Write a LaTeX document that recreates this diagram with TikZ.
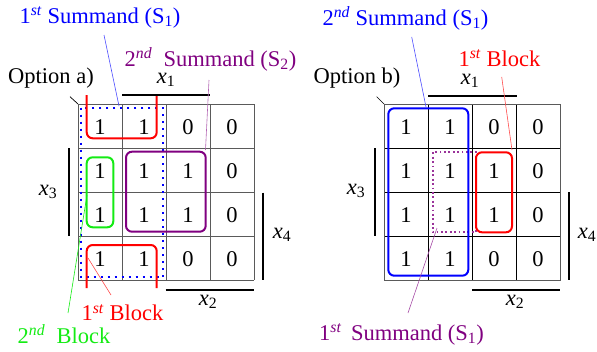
\documentclass[tikz,border=0pt]{standalone}
\usepackage{fontspec}
\setmainfont{Liberation Serif}[Ligatures=TeX]
\definecolor{kblue}{RGB}{0,0,255}
\definecolor{kred}{RGB}{255,0,0}
\definecolor{kgreen}{RGB}{20,235,20}
\definecolor{kpurple}{RGB}{128,0,128}
\definecolor{kgrid}{RGB}{90,90,90}
\begin{document}
\begin{tikzpicture}[x=1pt,y=-1pt,
  every node/.style={font=\rmfamily\fontsize{22.5}{26}\selectfont, inner sep=0pt},
  lbl/.style={anchor=base},
  bar/.style={line width=1.8pt, black},
  loop/.style={line width=2pt, rounded corners=6pt},
  leader/.style={line width=0.6pt},
  digit/.style={anchor=center}]
\useasboundingbox (0,0) rectangle (597,351);

% ---------- left map ----------
\foreach \i in {0,...,4} {
  \draw[kgrid, line width=1pt] (78+44*\i,104) -- (78+44*\i,280);
  \draw[kgrid, line width=1pt] (78,104+44*\i) -- (254,104+44*\i);
}
\draw[line width=0.7pt] (70,96.7) -- (78,104);
\foreach \r/\vals in {1/{1,1,0,0},2/{1,1,1,0},3/{1,1,1,0},4/{1,1,0,0}} {
  \foreach \v [count=\c] in \vals {
    \node[digit] (a\r\c) at (56+44*\c,82+44*\r+1) {\v};
  }
}
% loops
\draw[kblue, line width=2pt, dash pattern=on 2pt off 5pt] (80.7,107.5) rectangle (163.3,276.7);
\draw[kred, loop] (86.7,95) -- (86.7,138.3) -- (156.7,138.3) -- (156.7,95);
\draw[kred, loop] (86.7,288) -- (86.7,245) -- (156.7,245) -- (156.7,288);
\draw[kgreen, loop] (86.7,157.3) rectangle (113.3,227.3);
\draw[kpurple, loop] (126,151.7) rectangle (205.7,231.7);
% bars
\draw[bar] (122.3,95) -- (210,95);
\draw[bar] (69,148) -- (69,236);
\draw[bar] (263.3,192.7) -- (263.3,280);
\draw[bar] (165.7,290) -- (254,290);
% labels
\node[lbl] (ax1) at (166,83) {\textit{x}\textsubscript{1}};
\node[lbl] (ax3) at (48,195) {\textit{x}\textsubscript{3}};
\node[lbl] (ax4) at (282,238.5) {\textit{x}\textsubscript{4}};
\node[lbl] (ax2) at (208,305) {\textit{x}\textsubscript{2}};
\node[lbl] (opta) at (51,83.3) {Option a)};
\node[lbl, text=kblue] (as1) at (100,23.3) {1\textsuperscript{\textit{st}} Summand (S\textsubscript{1})};
\node[lbl, text=kpurple] (as2) at (210.5,66) {2\textsuperscript{\textit{nd}}\ \ Summand (S\textsubscript{2})};
\node[lbl, text=kred] (ab1) at (122.5,320.7) {1\textsuperscript{\textit{st}} Block};
\node[lbl, text=kgreen] (ab2) at (64,343.3) {2\textsuperscript{\textit{nd}}\ \ Block};
% leaders
\coordinate (as1s) at (104,35);  \coordinate (as1e) at (119,106);
\coordinate (as2s) at (209,80);  \coordinate (as2e) at (205.5,150);
\coordinate (ab1s) at (111,295); \coordinate (ab1e) at (88,258);
\coordinate (ab2s) at (68,313);  \coordinate (ab2e) at (87,195);
\draw[leader, kblue!70] (as1s) -- (as1e);
\draw[leader, kpurple!60] (as2s) -- (as2e);
\draw[leader, kred!70] (ab1s) -- (ab1e);
\draw[leader, kgreen] (ab2s) -- (ab2e);

% ---------- right map ----------
\foreach \i in {0,...,4} {
  \draw[black, line width=1pt] (384+44*\i,104) -- (384+44*\i,280);
  \draw[black, line width=1pt] (384,104+44*\i) -- (560,104+44*\i);
}
\draw[kgrid, line width=1pt] (384,104) rectangle (560,280);
\draw[line width=0.7pt] (376.7,96.7) -- (384,104);
\foreach \r/\vals in {1/{1,1,0,0},2/{1,1,1,0},3/{1,1,1,0},4/{1,1,0,0}} {
  \foreach \v [count=\c] in \vals {
    \node[digit] (b\r\c) at (362+44*\c,82+44*\r+1) {\v};
  }
}
\draw[kpurple!80, line width=1.8pt, dash pattern=on 1.8pt off 2.6pt] (433,152.3) rectangle (476,232.3);
\draw[kblue, loop] (388.3,108.3) rectangle (468.3,275.7);
\draw[kred, loop] (476,152.3) rectangle (512,232.3);
% bars
\draw[bar] (428.3,95.7) -- (516.7,95.7);
\draw[bar] (375,148) -- (375,236);
\draw[bar] (569.3,192) -- (569.3,280);
\draw[bar] (472.3,290) -- (560.3,290);
% labels
\node[lbl] (bx1) at (470,84) {\textit{x}\textsubscript{1}};
\node[lbl] (bx3) at (356,194) {\textit{x}\textsubscript{3}};
\node[lbl] (bx4) at (587,238) {\textit{x}\textsubscript{4}};
\node[lbl] (bx2) at (515,305) {\textit{x}\textsubscript{2}};
\node[lbl] (optb) at (357,83.3) {Option b)};
\node[lbl, text=kblue] (bs1) at (405.5,25) {2\textsuperscript{\textit{nd}} Summand (S\textsubscript{1})};
\node[lbl, text=kred] (bb1) at (499.5,66.5) {1\textsuperscript{\textit{st}} Block};
\node[lbl, text=kpurple] (bp1) at (401.5,340) {1\textsuperscript{\textit{st}}\, Summand (S\textsubscript{1})};
% leaders
\coordinate (bs1s) at (411.7,37);  \coordinate (bs1e) at (426,107);
\coordinate (bb1s) at (501.7,77);  \coordinate (bb1e) at (512,150);
\coordinate (bp1s) at (408,313);   \coordinate (bp1e) at (437,228);
\draw[leader, kblue!70] (bs1s) -- (bs1e);
\draw[leader, kred!70] (bb1s) -- (bb1e);
\draw[leader, kpurple!70] (bp1s) -- (bp1e);
\end{tikzpicture}
\end{document}
